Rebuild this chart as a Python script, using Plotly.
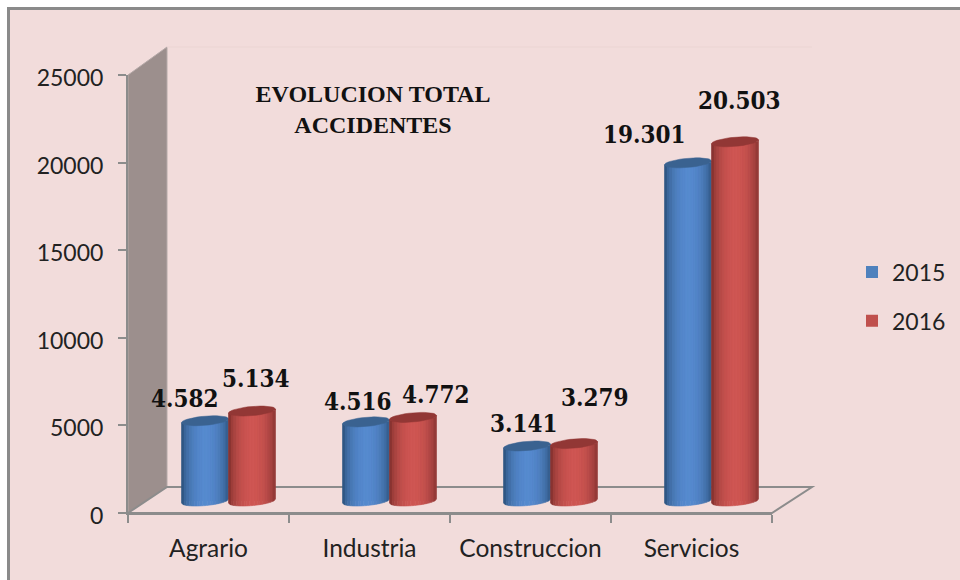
import math
import plotly.graph_objects as go

categories = ["Agrario", "Industria", "Construccion", "Servicios"]
years = ["2015", "2016"]
values_2015 = [4582, 4516, 3141, 19301]
values_2016 = [5134, 4772, 3279, 20503]
y_ticks = [0, 5000, 10000, 15000, 20000, 25000]
title_lines = ["EVOLUCION TOTAL", "ACCIDENTES"]

# layout constants, in pixels of the photographed page
W, H = 960, 580
L, R, T, B = 128, 772, 75, 513
PXX = 4 / (R - L)          # category units per pixel
PXY = 25000 / (B - T)      # value units per pixel
BASE = 12 * PXY            # the cylinders stand on the floor, behind the axis
SHIFT = 20 * PXX           # depth shift of the cylinders
RX = 23.5 * PXX
EB, ET = 4.6 * PXY, 2.0 * PXY

# label offsets in pixels relative to top centre of its cylinder
off_2015 = [(-20, 22), (-8, 20), (-3, 22), (-44, 28)]
off_2016 = [(4, 33), (23, 23), (21, 46), (4, 41)]

series = [
    dict(name=years[0], vals=values_2015, dx=-RX, mid="#4F81BD", light=(86, 138, 207), dark=(46, 84, 128), top="#3A6290", off=off_2015),
    dict(name=years[1], vals=values_2016, dx=RX, mid="#C0504D", light=(207, 86, 83), dark=(133, 50, 48), top="#923735", off=off_2016),
]


def paper(px, py):
    return (px - L) / (R - L), (B - py) / (B - T)


def ppath(points, close=True):
    s = []
    for i, (a, b) in enumerate(points):
        u, v = paper(a, b)
        s.append(("M" if i == 0 else "L") + f"{u:.5f},{v:.5f}")
    return " ".join(s) + (" Z" if close else "")


GRID = "#8C8C8C"
shapes = [
    dict(type="rect", xref="paper", yref="paper", layer="below",
         x0=paper(8.5, 0)[0], x1=paper(985, 0)[0], y0=paper(0, 605)[1], y1=paper(0, 8.5)[1],
         fillcolor="#F2DCDB", line=dict(color="#8A8A8A", width=3)),
    dict(type="path", xref="paper", yref="paper", layer="below",
         path=ppath([(128, 75), (167, 47), (167, 487), (128, 513)]),
         fillcolor="#9C8F8D", line=dict(color="#B5A9A8", width=1)),
    dict(type="path", xref="paper", yref="paper", layer="below",
         path=ppath([(128, 513), (167, 487), (812, 487), (772, 513)]),
         fillcolor="#F2DCDB", line=dict(color=GRID, width=2)),
    dict(type="path", xref="paper", yref="paper", layer="below",
         path=ppath([(167, 47), (812, 47)], close=False),
         line=dict(color="#EBD5D4", width=1)),
]

fig = go.Figure()
centers = list(range(len(categories)))
NS = 18

for k, s in enumerate(series):
    xs = [c + SHIFT + s["dx"] for c in centers]
    fig.add_trace(go.Bar(
        x=xs, y=s["vals"], base=BASE, width=RX * 1.9, name=s["name"], legendgroup=s["name"],
        marker=dict(color=s["mid"], line=dict(width=0)), hoverinfo="y",
    ))
    # shaded strips of each cylinder's side, derived from the same values
    for j in range(NS):
        u0, u1 = -1 + 2 * j / NS, -1 + 2 * (j + 1) / NS
        um = (u0 + u1) / 2
        t = max(0.0, 1 - ((um - 0.03) / 0.98) ** 2) ** 0.75
        col = tuple(round(s["dark"][i] + (s["light"][i] - s["dark"][i]) * t) for i in range(3))
        px_, py_ = [], []
        for x, v in zip(xs, s["vals"]):
            us = [u0, um, u1]
            yt = BASE + v
            top = [yt - EB * math.sqrt(max(0, 1 - u * u)) + ET * u for u in us]
            bot = [BASE - EB * math.sqrt(max(0, 1 - u * u)) + ET * u for u in us]
            px_ += [x + RX * u for u in us] + [x + RX * u for u in reversed(us)] + [x + RX * u0, None]
            py_ += top + list(reversed(bot)) + [top[0], None]
        fig.add_trace(go.Scatter(
            x=px_, y=py_, mode="lines", fill="toself", fillcolor=f"rgb{col}",
            line=dict(color=f"rgb{col}", width=0.6), showlegend=False, hoverinfo="skip",
        ))
    # top caps
    cx, cy = [], []
    for x, v in zip(xs, s["vals"]):
        for d in range(0, 361, 10):
            a = math.radians(d)
            cx.append(x + RX * math.cos(a))
            cy.append(BASE + v + EB * math.sin(a) + ET * math.cos(a))
        cx.append(None)
        cy.append(None)
    fig.add_trace(go.Scatter(x=cx, y=cy, mode="lines", fill="toself", fillcolor=s["top"],
                             line=dict(color=s["top"], width=0.5), showlegend=False, hoverinfo="skip"))

annotations = []
for s in series:
    for c, v, (ox, oy) in zip(centers, s["vals"], s["off"]):
        annotations.append(dict(
            x=c + SHIFT + s["dx"], y=BASE + v, xref="x", yref="y",
            text=f"{v:,}".replace(",", "."), showarrow=False, xshift=ox, yshift=oy,
            font=dict(family="DejaVu Serif Condensed", size=24, color="#111111", weight="bold"),
        ))

fig.update_layout(
    width=W, height=H, autosize=False,
    margin=dict(l=L, r=W - R, t=T, b=H - B, autoexpand=False),
    paper_bgcolor="white", plot_bgcolor="rgba(0,0,0,0)",
    barmode="overlay", showlegend=True,
    shapes=shapes, annotations=annotations,
    title=dict(text="<br>".join(title_lines), x=373 / W, xanchor="center", y=1 - 102 / H, yanchor="top",
               font=dict(family="Liberation Serif", size=24, color="#111111", weight="bold")),
    font=dict(family="Lato", size=23, color="#222222"),
    legend=dict(x=(852 - L) / (R - L), xanchor="left", y=(B - 250.5) / (B - T), yanchor="top",
                bgcolor="rgba(0,0,0,0)", tracegroupgap=16, font=dict(family="Lato", size=23, color="#222222"),
                itemwidth=30),
    xaxis=dict(range=[-0.5, 3.5], tickmode="array", tickvals=centers, ticktext=categories,
               tickfont=dict(family="Lato", size=24.5, color="#222222"),
               showgrid=False, zeroline=False, showline=True, linecolor=GRID, linewidth=2,
               ticks="", ticklabelstandoff=13,
               minor=dict(ticks="outside", ticklen=8, tickcolor=GRID, tickwidth=2, tick0=-0.5, dtick=1, showgrid=False)),
    yaxis=dict(range=[0, 25000], tickmode="array", tickvals=y_ticks, ticktext=[str(t) for t in y_ticks],
               showgrid=False, zeroline=False, showline=True, linecolor=GRID, linewidth=2,
               ticks="outside", ticklen=8, tickcolor=GRID, tickwidth=2, ticklabelstandoff=10, ticklabelshift=3),
)

fig.write_html("out.html", config={"displayModeBar": False},
               post_script="document.body.style.margin='0';document.documentElement.style.overflow='hidden';")
